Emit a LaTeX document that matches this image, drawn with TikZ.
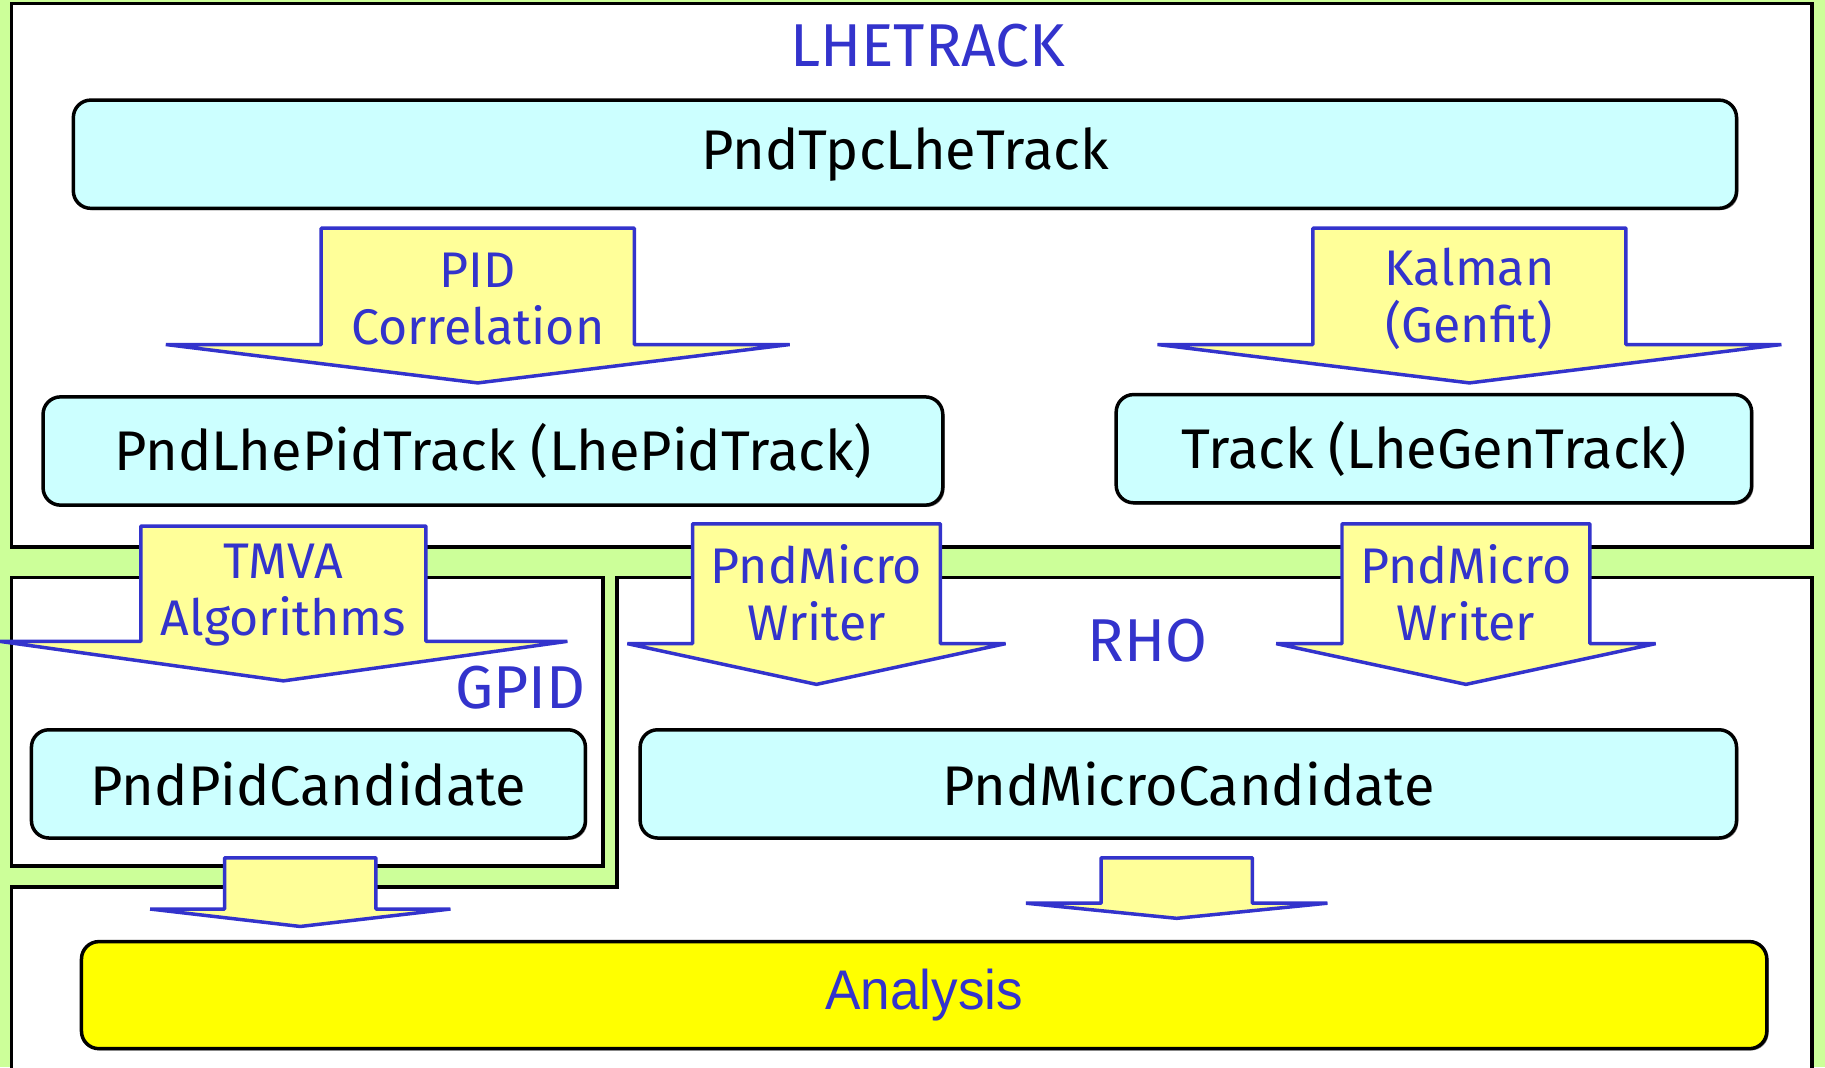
\documentclass[tikz,border=0pt]{standalone}
\usepackage{fontspec}
\setmainfont{Fira Sans}
\newfontfamily\narrowfont[FakeStretch=0.95]{Liberation Sans}
\usetikzlibrary{positioning}
\usetikzlibrary{shadows}
\definecolor{bggreen}{HTML}{CCFF99}
\definecolor{boxcyan}{HTML}{CCFFFF}
\definecolor{arrowyellow}{HTML}{FFFF99}
\definecolor{lblue}{HTML}{3333CC}
\definecolor{anayellow}{HTML}{FFFF00}
\tikzset{region/.style = {draw=black, fill=white, line width=3pt,
                          drop shadow={shadow xshift=1.5pt, shadow yshift=-1.5pt, opacity=1}}}
\tikzset{cbox/.style = {draw=black, fill=boxcyan, line width=3pt, rounded corners=15pt,
                        inner sep=0pt, minimum height=93pt,
                        font=\fontsize{48}{52}\selectfont,
                        drop shadow={shadow xshift=1.5pt, shadow yshift=-1.5pt, opacity=1}}}
\tikzset{fat/.style = {draw=lblue, fill=arrowyellow, line width=3pt, line join=bevel}}
\tikzset{lbl/.style = {text=lblue, font=\fontsize{43}{49}\selectfont,
                       align=center, inner sep=0pt}}
\tikzset{pkg/.style = {lbl, font=\fontsize{52}{56}\selectfont}}
% fat arrow: centre x, shaft top, head base, tip, half shaft, half head
\newcommand\fatarrow[6]{%
  \filldraw[fat] ({#1-#5},#2) -- ({#1+#5},#2) -- ({#1+#5},#3) -- ({#1+#6},#3)
    -- (#1,#4) -- ({#1-#6},#3) -- ({#1-#5},#3) -- cycle;}

\begin{document}
\begin{tikzpicture}[x=1pt, y=-1pt]
  \useasboundingbox (0,0) rectangle (1568,917);
  \fill[bggreen] (0,0) rectangle (1568,917);

  % the three packages
  \draw[region] (10,3) rectangle (1557,470);
  \draw[region] (10,496) rectangle (518,744);
  \draw[region] (530,496) -- (1557,496) -- (1557,935) -- (10,935)
    -- (10,762) -- (530,762) -- cycle;
  \node[pkg] (lhetrack) at (797,39) {LHETRACK};
  \node[pkg] (gpid) at (447,591) {GPID};
  \node[pkg] (rho) at (986,550) {RHO};

  % classes
  \node[cbox, minimum width=1429pt] (tpc) at (777.5,132.5) {PndTpcLheTrack};
  \node[cbox, minimum width=773pt] (pidtrk) at (423.5,387.5)
    {PndLhePidTrack (LhePidTrack)};
  \node[cbox, minimum width=546pt] (gentrk) at (1232,385.5)
    {Track (LheGenTrack)};
  \node[cbox, minimum width=476pt] (pidcand) at (265,673.5) {PndPidCandidate};
  \node[cbox, minimum width=942pt] (microcand) at (1021,673.5)
    {PndMicroCandidate};
  \node[cbox, fill=anayellow, minimum width=1448pt, minimum height=92pt,
        text=lblue, font=\narrowfont\fontsize{48}{50}\selectfont]
    (ana) at (794,855) {Analysis};

  % steps between them
  \fatarrow{410.5}{196}{296}{329}{134.5}{268}
  \node[lbl] (pidcorr) at (410.5,257) {PID\\Correlation};
  \fatarrow{1262.5}{196}{296}{329}{134.5}{268}
  \node[lbl] (kalman) at (1262.5,257) {Kalman\\(Genfit)};
  \fatarrow{243.5}{452}{551}{585}{122.5}{244}
  \node[lbl] (tmva) at (243.5,511) {TMVA\\Algorithms};
  \fatarrow{701.5}{450}{553}{588}{106.5}{162.5}
  \node[lbl] (writerl) at (701.5,509) {PndMicro\\Writer};
  \fatarrow{1259.5}{450}{553}{588}{106.5}{163}
  \node[lbl] (writerr) at (1259.5,509) {PndMicro\\Writer};
  \fatarrow{258}{737}{781}{796}{65}{129}
  \fatarrow{1011}{737}{776}{789}{65}{129.5}
\end{tikzpicture}
\end{document}
